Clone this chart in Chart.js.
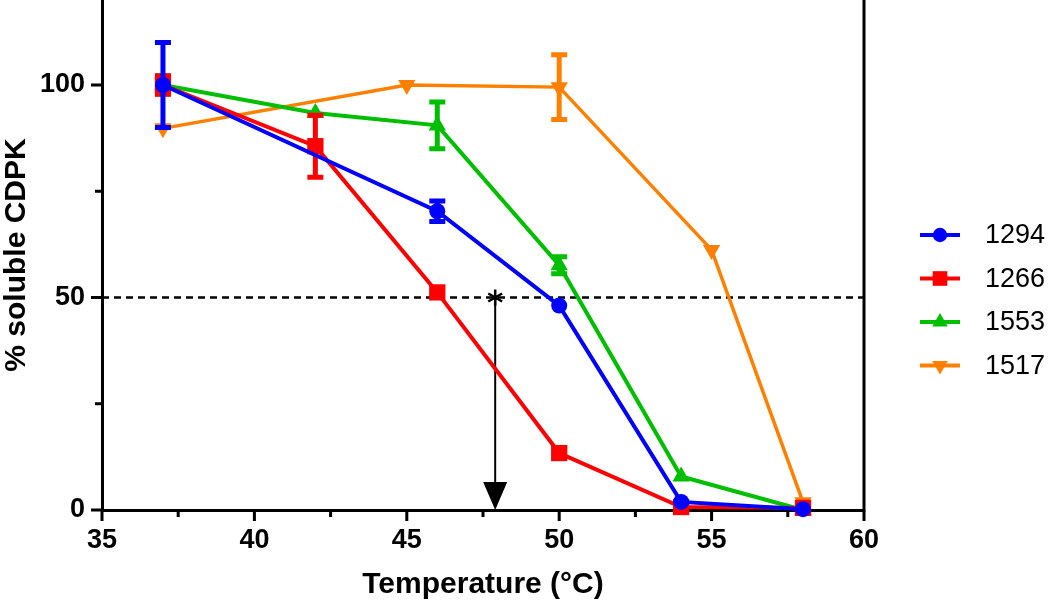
<!DOCTYPE html>
<html>
<head>
<meta charset="utf-8">
<script src="https://cdn.jsdelivr.net/npm/chart.js@4.4.1/dist/chart.umd.min.js"></script>
<style>
    html, body { margin: 0; padding: 0; background: #fff; }
</style>
</head>
<body>
<canvas id="chart" width="1050" height="604"></canvas>
<script>
    // values (% soluble CDPK vs temperature)
    // errors hidden behind the symbol in the original are left at 0
    const seriesNames = ['1294', '1266', '1553', '1517'];

    const temps1294 = [37, 46, 50, 54, 58];
    const soluble1294 = [100, 70.3, 48.1, 1.9, 0.2];
    const err1294 = [10, 2.4, 0, 0, 0];

    const temps1266 = [37, 42, 46, 50, 54, 58];
    const soluble1266 = [100, 85.6, 51.2, 13.4, 0.7, 0.5];
    const err1266 = [2.2, 7.3, 0, 0, 0, 0];

    const temps1553 = [37, 42, 46, 50, 54, 58];
    const soluble1553 = [100, 93.4, 90.5, 57.6, 7.9, 0];
    const err1553 = [2.1, 0, 5.5, 2.0, 0, 0];

    const temps1517 = [37, 45, 50, 55, 58];
    const soluble1517 = [89.8, 100, 99.5, 61.2, 1.8];
    const err1517 = [0, 0, 7.6, 0, 0];

    const halfLevel = 50;      // dashed 50% line
    const meltTemp = 47.9;     // arrow position (°C)

    const FONT = "'Liberation Sans', Arial, Helvetica, sans-serif";

    const toPoints = (xs, ys) => xs.map((x, i) => ({ x: x, y: ys[i] }));

    function makeSeries(label, xs, ys, errs, color, style, radius, rotation, width) {
        return {
            label: label,
            data: toPoints(xs, ys),
            errors: errs,
            borderColor: color,
            backgroundColor: color,
            borderWidth: width,
            pointStyle: style,
            pointRadius: radius,
            pointHoverRadius: radius,
            pointRotation: rotation,
            pointBorderWidth: 0,
            tension: 0,
            clip: false
        };
    }

    const datasets = [
        makeSeries(seriesNames[0], temps1294, soluble1294, err1294, '#0000ff', 'circle', 8, 0, 4),
        makeSeries(seriesNames[1], temps1266, soluble1266, err1266, '#ff0000', 'rect', 11.5, 0, 4),
        makeSeries(seriesNames[2], temps1553, soluble1553, err1553, '#00bf00', 'triangle', 10, 0, 4),
        makeSeries(seriesNames[3], temps1517, soluble1517, err1517, '#ff8000', 'triangle', 10, 180, 3.5)
    ];

    function drawMarker(ctx, style, x, y, r, rotation, color) {
        ctx.save();
        ctx.fillStyle = color;
        ctx.beginPath();
        if (style === 'circle') {
            ctx.arc(x, y, r, 0, Math.PI * 2);
        } else if (style === 'rect') {
            const s = r * Math.SQRT1_2;
            ctx.rect(x - s, y - s, 2 * s, 2 * s);
        } else {
            const dir = rotation === 180 ? -1 : 1;
            const h = 1.5 * r, w = Math.sqrt(3) * r / 2;
            ctx.moveTo(x, y - dir * r);
            ctx.lineTo(x + w, y - dir * (r - h));
            ctx.lineTo(x - w, y - dir * (r - h));
            ctx.closePath();
        }
        ctx.fill();
        ctx.restore();
    }

    const decorPlugin = {
        id: 'decor',
        beforeDatasetsDraw(chart) {
            const ctx = chart.ctx;
            const xs = chart.scales.x, ys = chart.scales.y;
            const area = chart.chartArea;
            const yHalf = ys.getPixelForValue(halfLevel);
            const xArrow = xs.getPixelForValue(meltTemp);
            const yBase = ys.getPixelForValue(0);
            ctx.save();
            ctx.strokeStyle = '#000';
            ctx.fillStyle = '#000';
            // dashed 50 % line
            ctx.lineWidth = 2.5;
            ctx.setLineDash([7, 5]);
            ctx.beginPath();
            ctx.moveTo(area.left, yHalf);
            ctx.lineTo(area.right, yHalf);
            ctx.stroke();
            ctx.setLineDash([]);
            // arrow
            ctx.lineWidth = 2;
            ctx.beginPath();
            ctx.moveTo(xArrow, yHalf);
            ctx.lineTo(xArrow, yBase - 26);
            ctx.stroke();
            ctx.beginPath();
            ctx.moveTo(xArrow - 12, yBase - 28);
            ctx.lineTo(xArrow + 12, yBase - 28);
            ctx.lineTo(xArrow, yBase);
            ctx.closePath();
            ctx.fill();
            // asterisk at tail
            ctx.lineWidth = 2.5;
            ctx.beginPath();
            for (let a = 0; a < 3; a++) {
                const ang = Math.PI / 2 + a * Math.PI / 3;
                ctx.moveTo(xArrow - 8 * Math.cos(ang), yHalf - 8 * Math.sin(ang));
                ctx.lineTo(xArrow + 8 * Math.cos(ang), yHalf + 8 * Math.sin(ang));
            }
            ctx.stroke();
            ctx.restore();
        },
        beforeDatasetDraw(chart, args) {
            const ds = chart.data.datasets[args.index];
            const ys = chart.scales.y;
            const ctx = chart.ctx;
            ctx.save();
            ctx.strokeStyle = ds.borderColor;
            ctx.lineWidth = 5;
            args.meta.data.forEach((pt, i) => {
                const e = ds.errors[i];
                if (!e) return;
                const v = ds.data[i].y;
                const yt = ys.getPixelForValue(v + e);
                const yb = ys.getPixelForValue(v - e);
                ctx.beginPath();
                ctx.moveTo(pt.x, yt);
                ctx.lineTo(pt.x, yb);
                ctx.moveTo(pt.x - 8, yt);
                ctx.lineTo(pt.x + 8, yt);
                ctx.moveTo(pt.x - 8, yb);
                ctx.lineTo(pt.x + 8, yb);
                ctx.stroke();
            });
            ctx.restore();
        },
        afterDraw(chart) {
            const ctx = chart.ctx;
            const xs = chart.scales.x, ys = chart.scales.y;
            const area = chart.chartArea;
            ctx.save();
            ctx.strokeStyle = '#000';
            ctx.lineWidth = 3;
            // right frame
            ctx.beginPath();
            ctx.moveTo(area.right, area.top);
            ctx.lineTo(area.right, area.bottom + 1.5);
            ctx.stroke();
            // x ticks (major + minor midpoints)
            const xt = xs.ticks.map(t => t.value);
            ctx.beginPath();
            xt.forEach((v, i) => {
                const px = xs.getPixelForValue(v);
                ctx.moveTo(px, area.bottom);
                ctx.lineTo(px, area.bottom + 11);
                if (i < xt.length - 1) {
                    const pm = xs.getPixelForValue((v + xt[i + 1]) / 2);
                    ctx.moveTo(pm, area.bottom);
                    ctx.lineTo(pm, area.bottom + 7);
                }
            });
            // y ticks
            const yt = ys.ticks.map(t => t.value);
            yt.forEach((v, i) => {
                const py = ys.getPixelForValue(v);
                ctx.moveTo(area.left, py);
                ctx.lineTo(area.left - 11, py);
                if (i < yt.length - 1) {
                    const pm = ys.getPixelForValue((v + yt[i + 1]) / 2);
                    ctx.moveTo(area.left, pm);
                    ctx.lineTo(area.left - 7, pm);
                }
            });
            ctx.stroke();
            // legend
            const lx0 = area.right + 56, lx1 = area.right + 96;
            chart.data.datasets.forEach((ds, i) => {
                const y = 235 + i * 43.5;
                ctx.strokeStyle = ds.borderColor;
                ctx.lineWidth = 4;
                ctx.beginPath();
                ctx.moveTo(lx0, y);
                ctx.lineTo(lx1, y);
                ctx.stroke();
                drawMarker(ctx, ds.pointStyle, (lx0 + lx1) / 2, y, ds.pointRadius * 0.9, ds.pointRotation, ds.borderColor);
                ctx.fillStyle = '#000';
                ctx.font = '27px ' + FONT;
                ctx.textAlign = 'left';
                ctx.textBaseline = 'middle';
                ctx.fillText(ds.label, area.right + 121, y + 1);
            });
            ctx.restore();
        }
    };

    new Chart(document.getElementById('chart'), {
        type: 'line',
        data: { datasets: datasets },
        plugins: [decorPlugin],
        options: {
            responsive: false,
            animation: false,
            events: [],
            layout: { autoPadding: false, padding: { left: 0, right: 186, top: 0, bottom: 0 } },
            plugins: { legend: { display: false }, tooltip: { enabled: false } },
            scales: {
                x: {
                    type: 'linear',
                    min: 35,
                    max: 60,
                    grid: { display: false, drawTicks: false },
                    border: { display: true, color: '#000', width: 3 },
                    ticks: {
                        stepSize: 5,
                        padding: 14,
                        color: '#000',
                        maxRotation: 0,
                        font: { family: FONT, size: 27, weight: 'bold' }
                    },
                    title: {
                        display: true,
                        text: 'Temperature (°C)',
                        color: '#000',
                        padding: { top: 0, bottom: 1 },
                        font: { family: FONT, size: 30, weight: 'bold' }
                    },
                    afterFit(scale) {
                        scale.height = 94;
                        scale.paddingLeft = 0;
                        scale.paddingRight = 0;
                    }
                },
                y: {
                    min: 0,
                    max: 120,
                    grid: { display: false, drawTicks: false },
                    border: { display: true, color: '#000', width: 3 },
                    ticks: {
                        stepSize: 50,
                        includeBounds: false,
                        padding: 17,
                        color: '#000',
                        font: { family: FONT, size: 27, weight: 'bold' }
                    },
                    title: {
                        display: true,
                        text: '% soluble CDPK',
                        color: '#000',
                        padding: 0,
                        font: { family: FONT, size: 30, weight: 'bold', lineHeight: 1.1 }
                    },
                    afterFit(scale) {
                        scale.width = 102;
                        scale.paddingTop = 0;
                        scale.paddingBottom = 0;
                    }
                }
            }
        }
    });
</script>
</body>
</html>
